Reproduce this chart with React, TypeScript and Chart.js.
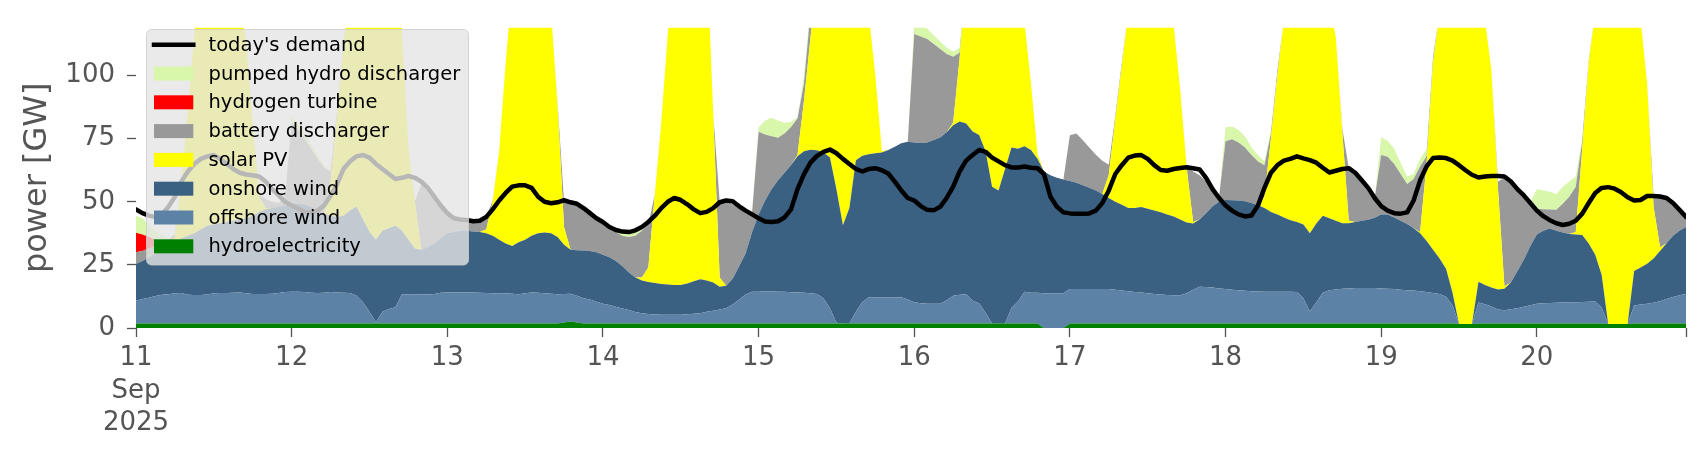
import React, { useEffect, useRef } from 'react';
import { Chart, registerables } from 'chart.js';

Chart.register(...registerables);

// hourly steps, 11 Sep 2025 00:00 ... 20 Sep 2025 23:00
const HOURS: number[] = Array.from({ length: 240 }, (_, i) => i);
const X_TICKS = [0, 24, 48, 72, 96, 120, 144, 168, 192, 216, 239];
const X_TICK_LABELS: (string | string[])[] = [['11', 'Sep', '2025'], '12', '13', '14', '15', '16', '17', '18', '19', '20', ''];
const Y_TICKS = [0, 25, 50, 75, 100];

const HYDRO = [
  1.8, 1.8, 1.8, 1.8, 1.8, 1.8, 1.8, 1.8, 1.8, 1.8, 1.8, 1.8, 1.8, 1.8, 1.8, 1.8, 1.8, 1.8, 1.8, 1.8, 1.8, 1.8, 1.8, 1.8,
  1.8, 1.8, 1.8, 1.8, 1.8, 1.8, 1.8, 1.8, 1.8, 1.8, 1.8, 1.8, 1.8, 1.8, 1.8, 1.8, 1.8, 1.8, 1.8, 1.8, 1.8, 1.8, 1.8, 1.8,
  1.8, 1.8, 1.8, 1.8, 1.8, 1.8, 1.8, 1.8, 1.8, 1.8, 1.8, 1.8, 1.8, 1.8, 1.8, 1.8, 1.8, 1.8, 2.2, 2.6, 2.2, 1.8, 1.8, 1.8,
  1.8, 1.8, 1.8, 1.8, 1.8, 1.8, 1.8, 1.8, 1.8, 1.8, 1.8, 1.8, 1.8, 1.8, 1.8, 1.8, 1.8, 1.8, 1.8, 1.8, 1.8, 1.8, 1.8, 1.8,
  1.8, 1.8, 1.8, 1.8, 1.8, 1.8, 1.8, 1.8, 1.8, 1.8, 1.8, 1.8, 1.8, 1.8, 1.8, 1.8, 1.8, 1.8, 1.8, 1.8, 1.8, 1.8, 1.8, 1.8,
  1.8, 1.8, 1.8, 1.8, 1.8, 1.8, 1.8, 1.8, 1.8, 1.8, 1.8, 1.8, 1.8, 1.8, 1.8, 1.8, 1.8, 1.8, 1.8, 1.8, 0, 0, 0, 0,
  1.8, 1.8, 1.8, 1.8, 1.8, 1.8, 1.8, 1.8, 1.8, 1.8, 1.8, 1.8, 1.8, 1.8, 1.8, 1.8, 1.8, 1.8, 1.8, 1.8, 1.8, 1.8, 1.8, 1.8,
  1.8, 1.8, 1.8, 1.8, 1.8, 1.8, 1.8, 1.8, 1.8, 1.8, 1.8, 1.8, 1.8, 1.8, 1.8, 1.8, 1.8, 1.8, 1.8, 1.8, 1.8, 1.8, 1.8, 1.8,
  1.8, 1.8, 1.8, 1.8, 1.8, 1.8, 1.8, 1.8, 1.8, 1.8, 1.8, 1.8, 1.6, 1.6, 1.6, 1.8, 1.8, 1.8, 1.8, 1.8, 1.8, 1.8, 1.8, 1.8,
  1.8, 1.8, 1.8, 1.8, 1.8, 1.8, 1.8, 1.8, 1.8, 1.8, 1.8, 1.6, 1.6, 1.6, 1.6, 1.8, 1.8, 1.8, 1.8, 1.8, 1.8, 1.8, 1.8, 1.8,
];

const OFFSHORE = [
  9.0, 9.7, 10.2, 10.9, 11.4, 11.6, 12.0, 12.1, 11.4, 11.3, 11.3, 11.5, 12.0, 12.1, 12.1, 12.2, 12.3, 12.0, 11.7, 11.7, 11.7, 11.8, 12.1, 12.5,
  12.6, 12.6, 12.5, 12.2, 12.1, 12.2, 12.5, 12.3, 12.2, 12.1, 11.0, 8.4, 4.6, 0.5, 4.6, 5.7, 6.4, 11.6, 11.6, 11.6, 11.6, 11.5, 11.7, 12.2,
  12.3, 12.3, 12.3, 12.3, 12.3, 12.2, 12.1, 12.0, 12.0, 12.0, 11.8, 11.6, 12.0, 12.3, 12.2, 12.0, 11.8, 11.6, 11.3, 11.0, 10.6, 10.0, 9.5, 8.6,
  7.8, 7.3, 6.6, 5.9, 5.3, 4.5, 4.0, 3.7, 3.5, 3.4, 3.4, 3.4, 3.4, 3.6, 3.8, 4.0, 4.6, 5.0, 5.5, 6.0, 7.5, 9.5, 11.5, 12.6,
  12.6, 12.8, 12.8, 12.6, 12.6, 12.4, 12.3, 12.2, 12.0, 11.7, 10.0, 6.0, 0.3, 0, 0, 4.6, 8.5, 10.4, 10.4, 10.4, 10.4, 10.4, 10.4, 9.5,
  8.4, 8.0, 7.8, 7.8, 7.8, 9.2, 11.0, 11.4, 11.6, 9.0, 8.0, 4.2, 0, 0, 0, 6.2, 8.7, 12.6, 12.2, 12.2, 13.8, 13.8, 13.8, 13.8,
  13.6, 13.6, 13.6, 13.6, 13.6, 13.6, 13.6, 13.4, 13.1, 12.8, 12.5, 12.3, 12.0, 11.7, 11.5, 11.3, 11.2, 11.2, 12.0, 13.4, 14.5, 14.4, 14.2, 13.8,
  13.6, 13.4, 13.2, 13.0, 12.8, 12.7, 12.6, 12.6, 12.6, 12.6, 12.6, 12.5, 10.0, 4.7, 8.4, 12.2, 13.2, 13.5, 13.7, 13.8, 14.0, 14.0, 14.0, 14.0,
  13.8, 13.7, 13.6, 13.4, 13.2, 13.1, 12.8, 12.5, 12.1, 11.7, 10.6, 7.2, 0, 0, 0, 8.3, 7.6, 6.7, 5.5, 5.2, 5.6, 6.0, 6.6, 7.2,
  7.8, 8.0, 8.1, 8.2, 8.3, 8.4, 8.4, 8.5, 8.6, 8.7, 6.2, 0, 0, 0, 0, 7.1, 7.5, 7.8, 8.2, 8.8, 9.7, 10.5, 11.2, 11.7,
];

const ONSHORE = [
  14.7, 15.0, 16.0, 16.8, 17.8, 19.1, 20.2, 21.6, 23.3, 24.4, 25.9, 27.2, 27.2, 27.6, 28.1, 28.5, 28.9, 29.7, 31.0, 32.5, 33.5, 33.9, 34.1, 34.2,
  34.6, 34.8, 34.7, 34.0, 32.6, 31.5, 30.2, 29.9, 30.5, 32.6, 35.2, 32.8, 31.6, 32.7, 32.1, 32.0, 32.3, 25.1, 21.6, 18.1, 17.6, 18.7, 20.0, 21.5,
  23.4, 23.9, 24.4, 24.4, 24.1, 24.0, 23.6, 22.7, 21.2, 19.7, 18.9, 20.6, 21.2, 22.4, 23.5, 24.0, 23.9, 22.6, 19.5, 17.4, 18.0, 18.9, 19.2, 19.6,
  19.4, 18.9, 18.1, 16.8, 14.9, 13.7, 13.0, 12.7, 12.5, 12.2, 12.0, 11.8, 11.8, 12.2, 12.9, 13.5, 12.4, 11.2, 9.0, 8.9, 10.2, 13.2, 16.2, 23.6,
  30.6, 35.9, 40.4, 44.1, 47.1, 50.3, 53.9, 56.0, 56.8, 56.9, 57.7, 59.7, 52.9, 38.9, 45.7, 60.1, 57.9, 56.6, 57.0, 57.3, 58.3, 59.6, 61.0, 62.5,
  63.3, 63.5, 63.9, 64.9, 65.9, 66.5, 67.5, 68.6, 67.6, 67.0, 66.7, 64.0, 54.2, 52.7, 61.2, 63.5, 60.5, 57.6, 56.5, 53.0, 48.2, 46.7, 45.7, 45.0,
  42.8, 42.1, 41.1, 40.2, 39.1, 37.7, 36.1, 34.8, 33.9, 32.9, 33.2, 33.8, 33.4, 33.0, 32.6, 31.9, 31.2, 30.0, 28.0, 26.2, 26.7, 29.3, 32.2, 34.4,
  35.3, 35.4, 35.5, 35.4, 34.9, 34.1, 33.1, 31.6, 30.6, 29.4, 28.3, 27.7, 29.2, 31.0, 31.2, 30.5, 28.5, 27.2, 26.0, 25.9, 26.2, 26.7, 27.1, 27.9,
  29.4, 29.5, 28.4, 27.3, 26.2, 24.6, 22.9, 20.2, 17.1, 14.0, 11.1, 5.0, 0, 0, 0, 8.2, 7.6, 7.5, 8.0, 8.5, 10.6, 14.7, 18.6, 23.5,
  27.4, 28.7, 29.5, 28.5, 27.7, 27.0, 26.8, 26.5, 23.1, 18.5, 13.0, 0, 0, 0, 0, 13.7, 14.7, 15.9, 17.5, 19.9, 22.1, 24.2, 25.5, 26.5,
];

const SOLAR = [
  0, 0, 0, 0, 0, 0, 2, 21.5, 50.5, 79.5, 106, 124.5, 131, 126.5, 116, 102.5, 87, 69.5, 36.5, 6, 0.5, 0, 0, 0,
  0, 0, 0, 0, 0, 0, 13.5, 40, 67.5, 88.5, 102, 117, 127, 125, 111.5, 100.5, 87.5, 79.5, 37, 18.5, 0, 0, 0, 0,
  0, 0, 0, 0, 0, 0, 1.5, 13.5, 35, 71.5, 102.5, 116, 120, 113.5, 102.5, 92.2, 87.5, 52, 7, 0, 0, 0, 0, 0,
  0, 0, 0, 0, 0, 0, 1.2, 5.8, 35.2, 64.2, 99.4, 123, 135, 142.4, 143.5, 138.7, 131.2, 66.8, 3.7, 0, 0, 0, 0, 0,
  0, 0, 0, 0, 0, 0, 0.5, 20, 44.4, 69.6, 85.5, 92.5, 103, 109.3, 92.5, 63.5, 56.8, 55.2, 30.8, 0.5, 0, 0, 0, 0,
  0, 0, 0, 0, 0, 0, 1.0, 25.2, 59, 77.2, 85.5, 90, 99, 95.5, 82, 68.5, 62, 49, 26.5, 2, 0, 0, 0, 0,
  0, 0, 0, 0, 0, 0, 9.2, 32.6, 54.8, 77.5, 92.5, 102.1, 107.8, 103.5, 94.1, 85, 75.8, 51.5, 21.7, 0.6, 0, 0, 0, 0,
  0, 0, 0, 0, 0, 0, 4.5, 29, 55, 78.2, 97.3, 108, 114, 112.5, 103.6, 93.5, 84.5, 72.8, 36.2, 1.0, 0, 0, 0, 0,
  0, 0, 0, 0, 0, 0, 0.5, 30.5, 74, 97.5, 116.5, 136, 153.4, 150.4, 143.4, 116.7, 105, 86, 40.3, 1.0, 0, 0, 0, 0,
  0, 0, 0, 0, 0, 0, 1, 34.2, 71.5, 96, 119, 148.4, 153.4, 150.4, 143.4, 112.4, 98, 71.5, 20.5, 1.5, 0, 0, 0, 0,
];

const BATTERY = [
  4.5, 4.0, 3.5, 3.0, 2.5, 2.0, 1.0, 0.5, 0, 0, 0, 0, 0, 0, 0, 0, 0, 0, 0, 1, 3.5, 2.5, 1.5, 3.5,
  32, 29.3, 26, 23, 20.5, 18, 4, 2, 1, 0, 0, 0, 0, 0, 0, 0, 0, 0, 0, 0, 26, 22, 17.5, 12.5,
  8, 6, 5, 4.8, 4.8, 5, 5, 0.5, 0, 0, 0, 0, 0, 0, 0, 0, 0, 1, 10, 18.5, 18.2, 16.8, 15, 13.5,
  12.5, 11.5, 11.5, 12, 14, 16.5, 18.5, 17, 0, 0, 0, 0, 0, 0, 0, 0, 0, 0, 30, 33.5, 29.5, 23, 16, 8,
  32.7, 26.2, 21, 16.9, 15.5, 15.1, 14.5, 7, 10, 0, 0, 0, 0, 0, 0, 0, 0, 0, 0, 0, 0, 0, 0, 0,
  43, 42.2, 41, 38, 35, 31, 26.2, 2, 0, 0, 0, 0, 0, 0, 0, 0, 0, 0, 0, 0, 0, 0, 0, 0,
  18.2, 19.5, 17.9, 15.9, 14.1, 13.2, 4.0, 1.4, 1.4, 0, 0, 0, 0, 0, 0, 0, 0, 0, 0.5, 20, 17.5, 12.5, 6.8, 2,
  23.3, 24.2, 23, 21.3, 19, 17.4, 12.5, 2, 2, 0, 0, 0, 0, 0, 0, 0, 0, 0, 1.3, 21, 19.5, 16, 12.6, 7.8,
  23.5, 22.8, 21.2, 18.5, 15.8, 19.5, 26, 3, 2, 0, 0, 0, 0, 0, 0, 0, 0, 0, 2.4, 43, 39.5, 32, 25, 16.5,
  10.2, 8.5, 7.5, 8.3, 11.4, 14.8, 18, 3, 1, 0, 0, 0, 0, 0, 0, 0, 0, 0, 4, 20, 17.9, 13, 8.3, 4,
];

const HYDROGEN = [
  7.7, 6.5, 4.5, 2.5, 1.0, 0.3, 0, 0, 0, 0, 0, 0, 0, 0, 0, 0, 0, 0, 0, 0, 0, 0, 0, 0,
  0, 0, 0, 0, 0, 0, 0, 0, 0, 0, 0, 0, 0, 0, 0, 0, 0, 0, 0, 0, 0, 0, 0, 0,
  0, 0, 0, 0, 0, 0, 0, 0, 0, 0, 0, 0, 0, 0, 0, 0, 0, 0, 0, 0, 0, 0, 0, 0,
  0, 0, 0, 0, 0, 0, 0, 0, 0, 0, 0, 0, 0, 0, 0, 0, 0, 0, 0, 0, 0, 0, 0, 0,
  0, 0, 0, 0, 0, 0, 0, 0, 0, 0, 0, 0, 0, 0, 0, 0, 0, 0, 0, 0, 0, 0, 0, 0,
  0, 0, 0, 0, 0, 0, 0, 0, 0, 0, 0, 0, 0, 0, 0, 0, 0, 0, 0, 0, 0, 0, 0, 0,
  0, 0, 0, 0, 0, 0, 0, 0, 0, 0, 0, 0, 0, 0, 0, 0, 0, 0, 0, 0, 0, 0, 0, 0,
  0, 0, 0, 0, 0, 0, 0, 0, 0, 0, 0, 0, 0, 0, 0, 0, 0, 0, 0, 0, 0, 0, 0, 0,
  0, 0, 0, 0, 0, 0, 0, 0, 0, 0, 0, 0, 0, 0, 0, 0, 0, 0, 0, 0, 0, 0, 0, 0,
  0, 0, 0, 0, 0, 0, 0, 0, 0, 0, 0, 0, 0, 0, 0, 0, 0, 0, 0, 0, 0, 0, 0, 0,
];

const PUMPED = [
  6.8, 6.5, 5, 3.5, 2, 0.7, 0.5, 0, 0, 0, 0, 0, 0, 0, 0, 0, 0, 0, 0, 0, 0, 0, 0, 1,
  3, 2.5, 2, 2, 1.5, 1, 0.5, 0, 0, 0, 0, 0, 0, 0, 0, 0, 0, 0, 0, 0, 0, 0, 0, 0,
  0, 0, 0, 0, 0, 0, 0, 0, 0, 0, 0, 0, 0, 0, 0, 0, 0, 0, 0, 0, 0, 0, 0, 0,
  1.0, 1.5, 1.5, 1.8, 1.8, 1.7, 1.0, 0.5, 0, 0, 0, 0, 0, 0, 0, 0, 0, 0, 0, 0, 0, 0, 0, 0.5,
  1.8, 5.5, 7.3, 6.8, 4.3, 2, 0.5, 2.7, 3, 0, 0, 0, 0, 0, 0, 0, 0, 0, 0, 0, 0, 0, 0, 0,
  4.5, 4.5, 4, 3.5, 3, 2.5, 2, 2, 0, 0, 0, 0, 0, 0, 0, 0, 0, 0, 0, 0, 0, 0, 0, 0,
  0, 0, 0, 0, 0, 0, 0, 0, 0, 0, 0, 0, 0, 0, 0, 0, 0, 0, 0, 0, 0, 0, 0, 0,
  5.5, 5, 5, 4.5, 3, 2.5, 1.5, 1, 0, 0, 0, 0, 0, 0, 0, 0, 0, 0, 0, 0, 0, 0, 0, 0,
  7, 6.4, 6, 4.5, 3, 2, 3, 3, 1, 0, 0, 0, 0, 0, 0, 0, 0, 0, 0, 0, 0, 0, 0, 1,
  7.8, 7.5, 7.1, 6.2, 6.8, 6, 4, 1, 0, 0, 0, 0, 0, 0, 0, 0, 0, 0, 0, 0, 0, 0, 0, 0,
];

const DEMAND = [
  47, 45.5, 44.5, 44, 45, 48, 52, 58, 62, 65, 67, 68, 68.5, 67, 65, 63, 61.5, 60.8, 60.5, 60, 58, 55, 52.5, 50,
  48.5, 47.3, 46, 45.9, 46.5, 48.5, 52.5, 57, 63, 66, 68, 68.5, 67.5, 65, 63, 61, 59, 59.5, 60.2, 59.5, 58, 55.5, 52, 48.5,
  45.5, 43.5, 43, 42.8, 42.3, 42.5, 44, 47, 50.5, 53.5, 56, 56.5, 56.5, 55.5, 52, 50, 49.4, 49.8, 50.6, 49.8, 49.2, 47.5, 45.5, 43.5,
  42, 40, 38.8, 38.2, 38, 38.7, 40, 42, 44.5, 47.5, 50, 51.5, 50.7, 49, 47, 45.5, 46, 47.5, 49.8, 50.5, 50.2, 48.2, 46.5, 45,
  43.5, 42.2, 42, 42.3, 43.8, 47, 55, 61, 65.5, 68.2, 69.8, 70.7, 69.2, 67, 65, 63, 62, 63, 63.3, 62.5, 61.2, 58, 54.5, 51.5,
  50.5, 48.3, 46.8, 46.6, 48, 51.5, 56, 62, 66.3, 68.5, 70.5, 69.8, 67.5, 66, 64.5, 63.6, 63.6, 64, 63.5, 63.3, 61, 52, 48, 45.8,
  45.4, 45.3, 45.3, 45.4, 46.5, 49.5, 54.5, 61, 64.5, 67.5, 68.3, 68.5, 67, 64.5, 62.6, 62.3, 63, 63.4, 63.7, 63.3, 62.8, 59.5, 55, 51.5,
  48.5, 46.5, 45, 44.2, 44.6, 48.5, 55.5, 61.5, 64.5, 66.3, 67, 68, 67.2, 66.5, 65.5, 63.5, 61.6, 62.3, 63, 63.3, 61.5, 58.5, 55.5, 51.5,
  48.3, 46.5, 45.5, 45.3, 45.8, 50.5, 58.5, 64, 67.3, 67.5, 67.3, 66.3, 64.5, 62.5, 60.7, 59.6, 60, 60.2, 60.2, 60, 58, 55, 52.5, 49.5,
  46.5, 44.3, 42.7, 41.5, 40.8, 41.3, 42.5, 45.3, 49.5, 53.5, 55.5, 55.8, 55.2, 53.8, 51.8, 50.5, 50.7, 52.3, 52.3, 52.1, 51.5, 49.5, 46.8, 44,
];

const FONT = "'DejaVu Sans', sans-serif";
const AXIS_COLOR = '#555555';

const insideLegend = {
  id: 'insideLegend',
  afterDraw(chart: any) {
    const ctx: CanvasRenderingContext2D = chart.ctx;
    const x0 = 146.5, y0 = 29.5, w = 322, h = 235.5, r = 5;
    ctx.save();
    ctx.beginPath();
    ctx.moveTo(x0 + r, y0);
    ctx.lineTo(x0 + w - r, y0);
    ctx.arcTo(x0 + w, y0, x0 + w, y0 + r, r);
    ctx.lineTo(x0 + w, y0 + h - r);
    ctx.arcTo(x0 + w, y0 + h, x0 + w - r, y0 + h, r);
    ctx.lineTo(x0 + r, y0 + h);
    ctx.arcTo(x0, y0 + h, x0, y0 + h - r, r);
    ctx.lineTo(x0, y0 + r);
    ctx.arcTo(x0, y0, x0 + r, y0, r);
    ctx.closePath();
    ctx.fillStyle = 'rgba(229,229,229,0.8)';
    ctx.fill();
    ctx.strokeStyle = 'rgba(204,204,204,0.8)';
    ctx.lineWidth = 1;
    ctx.stroke();

    const datasets = chart.data.datasets;
    const order = [7, 6, 5, 4, 3, 2, 1, 0];
    ctx.font = `19.5px ${FONT}`;
    ctx.textBaseline = 'middle';
    ctx.textAlign = 'left';
    order.forEach((di, i) => {
      const ds = datasets[di];
      const cy = 44.7 + i * 28.8;
      if (ds.fill === false) {
        ctx.beginPath();
        ctx.moveTo(154, cy);
        ctx.lineTo(193.3, cy);
        ctx.strokeStyle = ds.borderColor;
        ctx.lineWidth = 4.5;
        ctx.lineCap = 'square';
        ctx.stroke();
      } else {
        ctx.fillStyle = ds.backgroundColor;
        ctx.fillRect(154, cy - 7, 39.3, 14);
      }
      ctx.fillStyle = '#000000';
      ctx.fillText(ds.label, 208.5, cy + 1);
    });
    ctx.restore();
  },
};

function area(label: string, data: number[], color: string, fill: string) {
  return {
    label,
    data,
    backgroundColor: color,
    borderColor: color,
    borderWidth: 0,
    fill,
    pointRadius: 0,
    tension: 0,
    stack: 'supply',
    order: 1,
  };
}

export default function App() {
  const canvasRef = useRef<HTMLCanvasElement | null>(null);

  useEffect(() => {
    if (!canvasRef.current) return;
    Chart.defaults.font.family = FONT;
    const chart = new Chart(canvasRef.current, {
      type: 'line',
      data: {
        labels: HOURS,
        datasets: [
          area('hydroelectricity', HYDRO, '#008000', 'origin'),
          area('offshore wind', OFFSHORE, '#5c83a6', '-1'),
          area('onshore wind', ONSHORE, '#3b6182', '-1'),
          area('solar PV', SOLAR, '#ffff00', '-1'),
          area('battery discharger', BATTERY, '#999999', '-1'),
          area('hydrogen turbine', HYDROGEN, '#ff0000', '-1'),
          area('pumped hydro discharger', PUMPED, '#d9f7aa', '-1'),
          {
            label: "today's demand",
            data: DEMAND,
            borderColor: '#000000',
            backgroundColor: '#000000',
            borderWidth: 4.5,
            fill: false,
            pointRadius: 0,
            tension: 0,
            stack: 'demand',
            order: 0,
            borderJoinStyle: 'round',
            borderCapStyle: 'round',
          } as any,
        ],
      },
      options: {
        responsive: false,
        animation: false,
        devicePixelRatio: 1,
        layout: { padding: { top: 22, right: 20, left: 0, bottom: 0 } },
        plugins: {
          legend: { display: false },
          tooltip: { enabled: false },
        },
        scales: {
          x: {
            type: 'linear',
            min: 0,
            max: 239,
            border: { display: false },
            grid: {
              drawOnChartArea: false,
              drawTicks: true,
              tickLength: 9,
              tickColor: AXIS_COLOR,
              tickWidth: 1.3,
            },
            ticks: {
              autoSkip: false,
              maxRotation: 0,
              minRotation: 0,
              padding: 5,
              color: AXIS_COLOR,
              font: { family: FONT, size: 26, lineHeight: 1.25 },
              callback: (_v: any, index: number) => X_TICK_LABELS[index],
            },
            afterBuildTicks: (scale: any) => {
              scale.ticks = X_TICKS.map((v) => ({ value: v }));
            },
            afterFit: (scale: any) => {
              scale.height = 132;
            },
          },
          y: {
            stacked: true,
            min: 0,
            max: 119,
            border: { display: false },
            grid: {
              drawOnChartArea: false,
              drawTicks: true,
              tickLength: 9,
              tickColor: AXIS_COLOR,
              tickWidth: 1.3,
            },
            ticks: {
              padding: 12,
              color: AXIS_COLOR,
              font: { family: FONT, size: 26 },
            },
            afterBuildTicks: (scale: any) => {
              scale.ticks = Y_TICKS.map((v) => ({ value: v }));
            },
            afterFit: (scale: any) => {
              scale.width = 136;
            },
            title: {
              display: true,
              text: 'power [GW]',
              color: AXIS_COLOR,
              font: { family: FONT, size: 32 },
              padding: { top: 18, bottom: 0 },
            },
          },
        },
      } as any,
      plugins: [insideLegend],
    });
    return () => chart.destroy();
  }, []);

  return (
    <div style={{ position: 'fixed', left: 0, top: 0, width: 1706, height: 460, background: '#ffffff' }}>
      <canvas ref={canvasRef} width={1706} height={460} style={{ display: 'block', width: 1706, height: 460 }} />
    </div>
  );
}
